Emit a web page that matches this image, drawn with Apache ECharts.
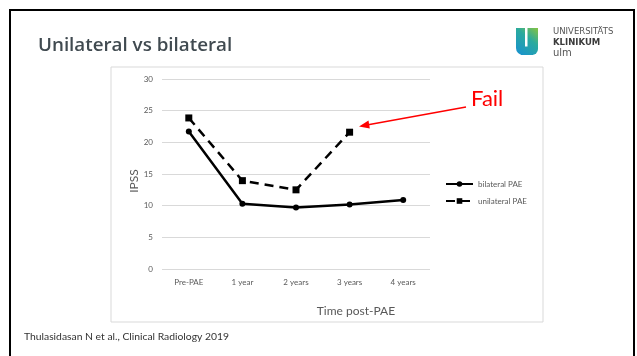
<!DOCTYPE html>
<html>
<head>
<meta charset="utf-8">
<script src="https://cdn.jsdelivr.net/npm/echarts@6/dist/echarts.min.js"></script>
<style>
  html, body { margin: 0; padding: 0; background: #ffffff; }
  #chart { width: 637px; height: 356px; }
</style>
</head>
<body>
<div id="chart"></div>
<script>
// IPSS over time after prostatic artery embolisation
const categories = ['Pre-PAE', '1 year', '2 years', '3 years', '4 years'];
const bilateralPAE = [21.7, 10.3, 9.7, 10.2, 10.9];
const unilateralPAE = [23.85, 13.95, 12.5, 21.6, null];
const yTicks = { min: 0, max: 30, step: 5 };

const chart = echarts.init(document.getElementById('chart'));
const gray = '#595959';

// green-to-blue gradient shared by all parts of the logo "U"
const logoFill = new echarts.graphic.LinearGradient(538, 28, 516, 55, [
  { offset: 0, color: '#86c341' },
  { offset: 0.4, color: '#2aaa9e' },
  { offset: 1, color: '#1790d2' }
], true);

chart.setOption({
  backgroundColor: '#ffffff',
  animation: false,
  grid: { left: 162, right: 207, top: 79, bottom: 87 },
  legend: {
    orient: 'vertical',
    left: 440,
    top: 175,
    itemWidth: 27,
    itemHeight: 7,
    itemGap: 9,
    textStyle: { fontFamily: 'Lato', fontSize: 8, color: gray },
    data: ['bilateral PAE', 'unilateral PAE']
  },
  xAxis: {
    type: 'category',
    data: categories,
    boundaryGap: true,
    axisLine: { show: false },
    axisTick: { show: false },
    axisLabel: { fontFamily: 'Lato', fontSize: 8, color: gray, margin: 9 }
  },
  yAxis: {
    type: 'value',
    min: yTicks.min,
    max: yTicks.max,
    interval: yTicks.step,
    axisLine: { show: false },
    axisTick: { show: false },
    axisLabel: { fontFamily: 'Lato', fontSize: 8, color: gray, margin: 9 },
    splitLine: { lineStyle: { color: '#d9d9d9', width: 1 } }
  },
  series: [
    {
      name: 'bilateral PAE',
      type: 'line',
      data: bilateralPAE,
      symbol: 'circle',
      symbolSize: 6,
      lineStyle: { color: '#000000', width: 2.5 },
      itemStyle: { color: '#000000' }
    },
    {
      name: 'unilateral PAE',
      type: 'line',
      data: unilateralPAE,
      symbol: 'rect',
      symbolSize: 7,
      lineStyle: { color: '#000000', width: 2.5, type: [9, 6] },
      itemStyle: { color: '#000000' }
    }
  ],
  graphic: [
    // slide frame
    { type: 'rect', shape: { x: 10, y: 10, width: 624, height: 360 }, style: { fill: 'none', stroke: '#000000', lineWidth: 2 }, z: 0, silent: true },
    // chart panel border
    { type: 'rect', shape: { x: 111, y: 67, width: 432, height: 255 }, style: { fill: 'none', stroke: '#d9d9d9', lineWidth: 1 }, z: 0, silent: true },
    // slide title
    { type: 'text', x: 38, y: 46, style: { text: 'Unilateral vs bilateral', font: '600 18.8px "Open Sans"', fill: '#404a50', verticalAlign: 'middle' } },
    // axis titles
    { type: 'text', x: 134, y: 181, rotation: Math.PI / 2, style: { text: 'IPSS', font: '12px Lato', fill: gray, align: 'center', verticalAlign: 'middle' } },
    { type: 'text', x: 356, y: 311, style: { text: 'Time post-PAE', font: '12px Lato', fill: gray, align: 'center', verticalAlign: 'middle' } },
    // citation
    { type: 'text', x: 24, y: 337, style: { text: 'Thulasidasan N et al., Clinical Radiology 2019', font: '10.35px Lato', fill: '#333333', verticalAlign: 'middle' } },
    // "Fail" annotation with arrow
    { type: 'text', x: 471, y: 99, style: { text: 'Fail', font: '22px Lato', fill: '#ff0000', verticalAlign: 'middle' } },
    { type: 'line', shape: { x1: 466, y1: 107, x2: 364, y2: 125.5 }, style: { stroke: '#ff0000', lineWidth: 1.5 } },
    { type: 'polygon', shape: { points: [[359, 126.4], [368.5, 120.6], [369.8, 128.4]] }, style: { fill: '#ff0000' } },
    // logo
    { type: 'rect', shape: { x: 516, y: 28, width: 9, height: 27, r: [0, 0, 0, 7] }, style: { fill: logoFill } },
    { type: 'rect', shape: { x: 527.5, y: 28, width: 10.5, height: 27, r: [0, 0, 6, 0] }, style: { fill: logoFill } },
    { type: 'rect', shape: { x: 521, y: 46.5, width: 12, height: 8.5 }, style: { fill: logoFill } },
    { type: 'text', x: 553, y: 32, style: { text: 'UNIVERSITÄTS', font: '8.5px "DejaVu Sans"', fill: '#555555', verticalAlign: 'middle' } },
    { type: 'text', x: 553, y: 43, style: { text: 'KLINIKUM', font: 'bold 8.5px "DejaVu Sans"', fill: '#3a3a3a', verticalAlign: 'middle' } },
    { type: 'text', x: 553, y: 53, style: { text: 'ulm', font: '10px "DejaVu Sans"', fill: '#555555', verticalAlign: 'middle' } }
  ]
});
</script>
</body>
</html>
